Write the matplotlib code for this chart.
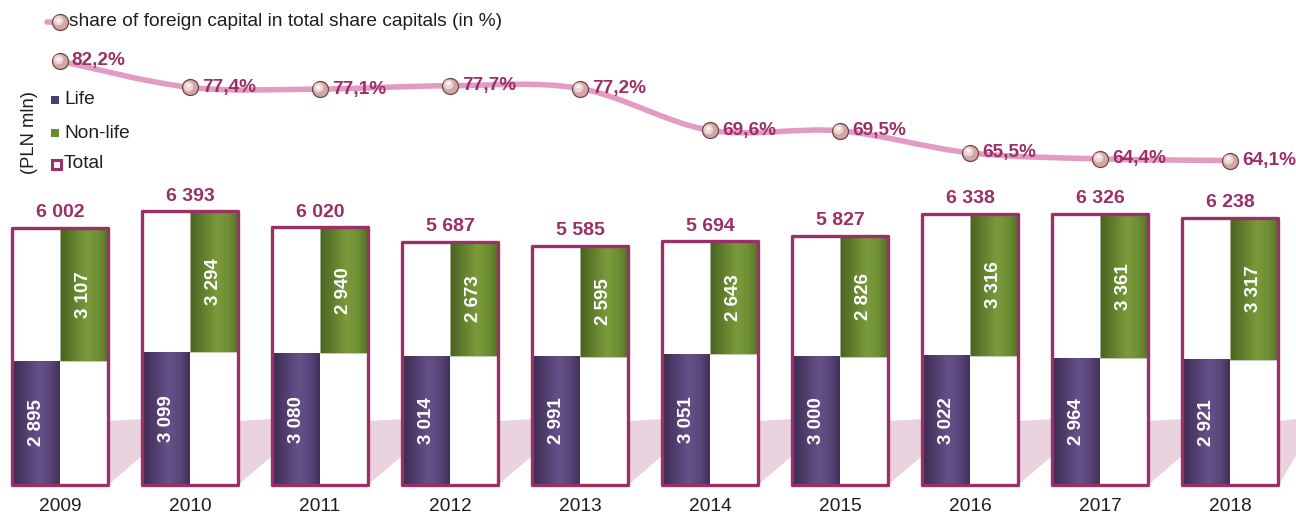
import numpy as np
import matplotlib
matplotlib.use("Agg")
import matplotlib.pyplot as plt
from matplotlib.path import Path
from matplotlib.patches import PathPatch, Rectangle, Polygon
from matplotlib.colors import LinearSegmentedColormap
import matplotlib.transforms as mtransforms

plt.rcParams['font.family'] = ['Liberation Sans', 'DejaVu Sans']

# ---------------- data ----------------
years = ["2009", "2010", "2011", "2012", "2013", "2014", "2015", "2016", "2017", "2018"]
life = [2895, 3099, 3080, 3014, 2991, 3051, 3000, 3022, 2964, 2921]
nonlife = [3107, 3294, 2940, 2673, 2595, 2643, 2826, 3316, 3361, 3317]
total = [6002, 6393, 6020, 5687, 5585, 5694, 5827, 6338, 6326, 6238]
share = [82.2, 77.4, 77.1, 77.7, 77.2, 69.6, 69.5, 65.5, 64.4, 64.1]

legend_line = "share of foreign capital in total share capitals (in %)"
legend_items = ["Life", "Non-life", "Total"]
unit_label = "(PLN mln)"

def fmt_int(v):
    return f"{v:,}".replace(",", " ")

def fmt_pct(v):
    return f"{v:.1f}".replace(".", ",") + "%"

# ---------------- style ----------------
MAGENTA = "#9C2F66"
LINE_PINK = "#E29CC4"
TXT = "#1E1E1E"
W, H = 1296, 515
fig = plt.figure(figsize=(W / 100, H / 100), dpi=100)

xmin = -60 / 130
xmax = (W - 60) / 130

# background axes for the shadow band (figure pixel coords)
axb = fig.add_axes([0, 0, 1, 1])
axb.axis("off")
axb.set_xlim(0, W)
axb.set_ylim(H, 0)

# bar axes
base_px = 485
scale = 0.0428
ax = fig.add_axes([0, (H - base_px) / H, 1, base_px / H])
ax.axis("off")
ax.patch.set_alpha(0)

half = 0.369
n = len(years)

# shadow band between boxes
for i in range(n):
    x_r = 60 + 130 * i + half * 130 + 1
    x_next = 60 + 130 * (i + 1) - half * 130 if i < n - 1 else W
    axb.add_patch(Polygon([(x_r, 421), (x_next, 419), (x_next, 456), (x_r, 484)],
                          closed=True, facecolor="#EAD2DE", edgecolor="none", zorder=0))

purple_cmap = LinearSegmentedColormap.from_list(
    "pu", [(0, "#3A2A4F"), (0.55, "#66508A"), (0.8, "#5A4679"), (1, "#40305A")])
green_cmap = LinearSegmentedColormap.from_list(
    "gr", [(0, "#48621F"), (0.55, "#7A9A3B"), (0.8, "#6F8F35"), (1, "#55722A")])
grad = np.linspace(0, 1, 256).reshape(1, -1)

for i in range(n):
    x0, x1 = i - half, i + half
    ax.add_patch(Rectangle((x0, 0), 2 * half, total[i], facecolor="white",
                           edgecolor="none", zorder=1))
    ax.imshow(grad, cmap=purple_cmap, aspect="auto", extent=[x0, i, 0, life[i]],
              zorder=2, interpolation="bilinear")
    ax.imshow(grad, cmap=green_cmap, aspect="auto", extent=[i, x1, life[i], total[i]],
              zorder=2, interpolation="bilinear")
    ax.add_patch(Rectangle((i, life[i]), half, nonlife[i], facecolor="none",
                           edgecolor="#B8C0A8", lw=0.6, zorder=2.5))
    ax.add_patch(Rectangle((x0, 0), 2 * half, total[i], facecolor="none",
                           edgecolor=MAGENTA, lw=2.4, zorder=3, clip_on=False,
                           joinstyle="round"))
    ax.text(i - half / 2, life[i] / 2, fmt_int(life[i]), rotation=90, ha="center",
            va="center", color="white", fontsize=13.5, fontweight="bold", zorder=4)
    ax.text(i + half / 2, life[i] + nonlife[i] / 2, fmt_int(nonlife[i]), rotation=90,
            ha="center", va="center", color="white", fontsize=13.5, fontweight="bold", zorder=4)
    ax.annotate(fmt_int(total[i]), (i, total[i]), xytext=(0, 11), textcoords="offset points",
                ha="center", va="center", color=MAGENTA, fontsize=14, fontweight="bold",
                zorder=4)
    ax.annotate(years[i], (i, 0), xytext=(0, -15.5), textcoords="offset points",
                ha="center", va="center", color=TXT, fontsize=13.8, zorder=4,
                annotation_clip=False)
ax.set_xlim(xmin, xmax)
ax.set_ylim(0, base_px / scale)

# line axes
axl = fig.add_axes([0, 0, 1, 1])
axl.set_xlim(xmin, xmax)
axl.set_ylim(82.2 - 454 / 5.5, 82.2 + 61 / 5.5)
axl.axis("off")
axl.patch.set_alpha(0)

xs = np.arange(n, dtype=float)
ys = np.array(share, dtype=float)
pts = np.column_stack([xs, ys])
verts = [tuple(pts[0])]
codes = [Path.MOVETO]
for k in range(n - 1):
    p0 = pts[k - 1] if k > 0 else pts[k]
    p1 = pts[k]
    p2 = pts[k + 1]
    p3 = pts[k + 2] if k + 2 < n else pts[k + 1]
    c1 = p1 + (p2 - p0) / 6
    c2 = p2 - (p3 - p1) / 6
    verts += [tuple(c1), tuple(c2), tuple(p2)]
    codes += [Path.CURVE4] * 3
axl.add_patch(PathPatch(Path(verts, codes), facecolor="none", edgecolor=LINE_PINK,
                        lw=4.0, zorder=2, capstyle="round"))

def sphere(axis, x, y, z=3):
    axis.plot([x], [y], marker="o", ms=11.5, mfc="#D4A6A8", mec="#6E4646", mew=0.9,
              zorder=z)
    base = axis.transData
    off = mtransforms.offset_copy(base, fig=fig, x=-1.2, y=1.2, units="points")
    axis.plot([x], [y], marker="o", ms=7, mfc="#EDD5D4", mec="none", zorder=z + 0.1,
              transform=off)
    off2 = mtransforms.offset_copy(base, fig=fig, x=-1.8, y=1.8, units="points")
    axis.plot([x], [y], marker="o", ms=2.8, mfc="#FFFFFF", mec="none", zorder=z + 0.2,
              alpha=0.8, transform=off2)

for i in range(n):
    sphere(axl, xs[i], ys[i])
    axl.annotate(fmt_pct(share[i]), (xs[i], ys[i]), xytext=(8.5, 0),
                 textcoords="offset points", ha="left", va="center", color=MAGENTA,
                 fontsize=13.7, fontweight="bold", zorder=5)

# ---------------- legends (figure pixel coords on axb) ----------------
axb.plot([47, 67], [22, 22], color=LINE_PINK, lw=4.0, solid_capstyle="round", zorder=2)
sphere(axb, 60, 22, z=3)
axb.text(69, 22, legend_line, ha="left", va="center", fontsize=13.8, color=TXT)

axb.add_patch(Rectangle((51, 96), 8, 8, facecolor="#4E3C6C", edgecolor="none"))
axb.text(64, 100, legend_items[0], ha="left", va="center", fontsize=13.8, color=TXT)
axb.add_patch(Rectangle((51, 129), 8, 8, facecolor="#6A8A33", edgecolor="none"))
axb.text(64, 133, legend_items[1], ha="left", va="center", fontsize=13.8, color=TXT)
axb.add_patch(Rectangle((51.5, 159.5), 9, 9, facecolor="white", edgecolor=MAGENTA, lw=2.2))
axb.text(64, 164, legend_items[2], ha="left", va="center", fontsize=13.8, color=TXT)
axb.text(30, 133, unit_label, ha="center", va="center", rotation=90, fontsize=13.2,
         color=TXT)

fig.savefig("out.png", dpi=100)
